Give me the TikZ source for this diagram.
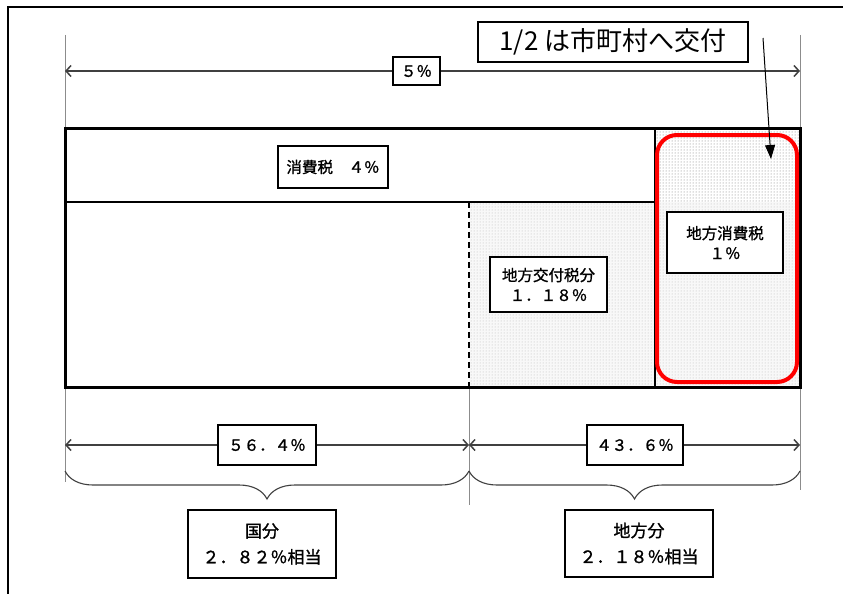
\documentclass[tikz,border=0pt]{standalone}
\usepackage{fontspec}
\setmainfont{Noto Sans CJK JP}
\newfontfamily\lblfont{Noto Sans CJK JP}[FakeBold=1.2]
\usetikzlibrary{arrows.meta,patterns,decorations.pathreplacing}
\begin{document}
\begin{tikzpicture}[x=1pt,y=-1pt,
  lbl/.style={draw,line width=1.6pt,fill=white,inner sep=0pt,align=center,
    font=\lblfont\fontsize{15.5}{20}\selectfont},
  big/.style={draw,line width=1.4pt,fill=white,inner sep=0pt,align=center,
    font=\lblfont\fontsize{17}{26}\selectfont},
  dimline/.style={draw=black!75,line width=1.5pt,{Straight Barb[length=5pt,width=11pt]}-{Straight Barb[length=5pt,width=11pt]}},
  extline/.style={draw=black!45,line width=0.9pt},
  stipple/.style={fill=black!5,pattern=dots,pattern color=black!55},
  bracestyle/.style={draw=black!75,line width=1.1pt,decorate,decoration={brace,mirror,amplitude=28pt,aspect=0.5}}
]
\useasboundingbox (0,0) rectangle (843,594);
% outer frame
\draw[line width=1.2pt] (8,600) -- (8,7) -- (850,7);

% extension lines
\coordinate (eL0) at (65,35);  \coordinate (eL1) at (65,482);
\coordinate (eR0) at (800,35); \coordinate (eR1) at (800,490);
\coordinate (eM0) at (469,387); \coordinate (eM1) at (469,505);
\draw[extline] (eL0) -- (eL1);
\draw[extline] (eR0) -- (eR1);
\draw[extline] (eM0) -- (eM1);

% stippled regions
\path[stipple] (469,202) rectangle (655,387);
\path[stipple] (655,128) rectangle (800,387);
\path[fill=black!5,fill opacity=0.5] (469,202) rectangle (800,387);

% inner lines
\draw[line width=1.5pt] (65,202) -- (655,202);
\draw[line width=1.5pt] (655,128) -- (655,387);
\draw[line width=1.4pt,dash pattern=on 6pt off 4pt] (469,202) -- (469,387);

% main rectangle
\draw[line width=3pt] (65,128) rectangle (800,387);

% red highlight
\draw[red,line width=4pt,rounded corners=20pt] (657,135) rectangle (797,382);

% 5% dimension
\coordinate (a5l) at (65,71); \coordinate (a5r) at (800,71);
\draw[dimline] (a5l) -- (a5r);
\node[lbl,minimum width=47pt,minimum height=28pt] (p5) at (416.5,71) {５％};

% bottom dimensions
\coordinate (b1l) at (65,445); \coordinate (b1r) at (469,445);
\coordinate (b2l) at (469,445); \coordinate (b2r) at (800,445);
\draw[dimline] (b1l) -- (b1r);
\draw[dimline] (b2l) -- (b2r);
\node[lbl,minimum width=98pt,minimum height=40pt] (p564) at (267,445) {５６．４％};
\node[lbl,minimum width=96pt,minimum height=40pt] (p436) at (635,445) {４３．６％};

% braces
\coordinate (c1l) at (65,471); \coordinate (c1r) at (469,471);
\coordinate (c2l) at (469,471); \coordinate (c2r) at (800,471);
\draw[bracestyle] (c1l) -- (c1r);
\draw[bracestyle] (c2l) -- (c2r);

% labels in bar
\node[lbl,minimum width=110pt,minimum height=42pt] (shohi) at (333,167) {消費税　４％};
\node[lbl,minimum width=117pt,minimum height=55pt] (kofu) at (548.5,284.5) {地方交付税分\\１．１８％};
\node[lbl,minimum width=116pt,minimum height=61pt] (chiho) at (725,242.5) {地方消費税\\１％};

% bottom boxes
\node[big,minimum width=148pt,minimum height=68pt] (kuni) at (262,544) {国分\\２．８２％相当};
\node[big,minimum width=148pt,minimum height=67pt] (chihobun) at (639,543.5) {地方分\\２．１８％相当};

% callout
\node[draw,line width=1.2pt,fill=white,inner sep=0pt,minimum width=270pt,minimum height=40pt,
  font=\fontsize{26}{30}\selectfont] (call) at (613,42) {1/2 は市町村へ交付};
\coordinate (arrS) at (763,38);
\coordinate (arrE) at (771,159);
\draw[line width=1pt,-{Triangle[length=14pt,width=10pt]}] (arrS) -- (arrE);
\end{tikzpicture}
\end{document}
